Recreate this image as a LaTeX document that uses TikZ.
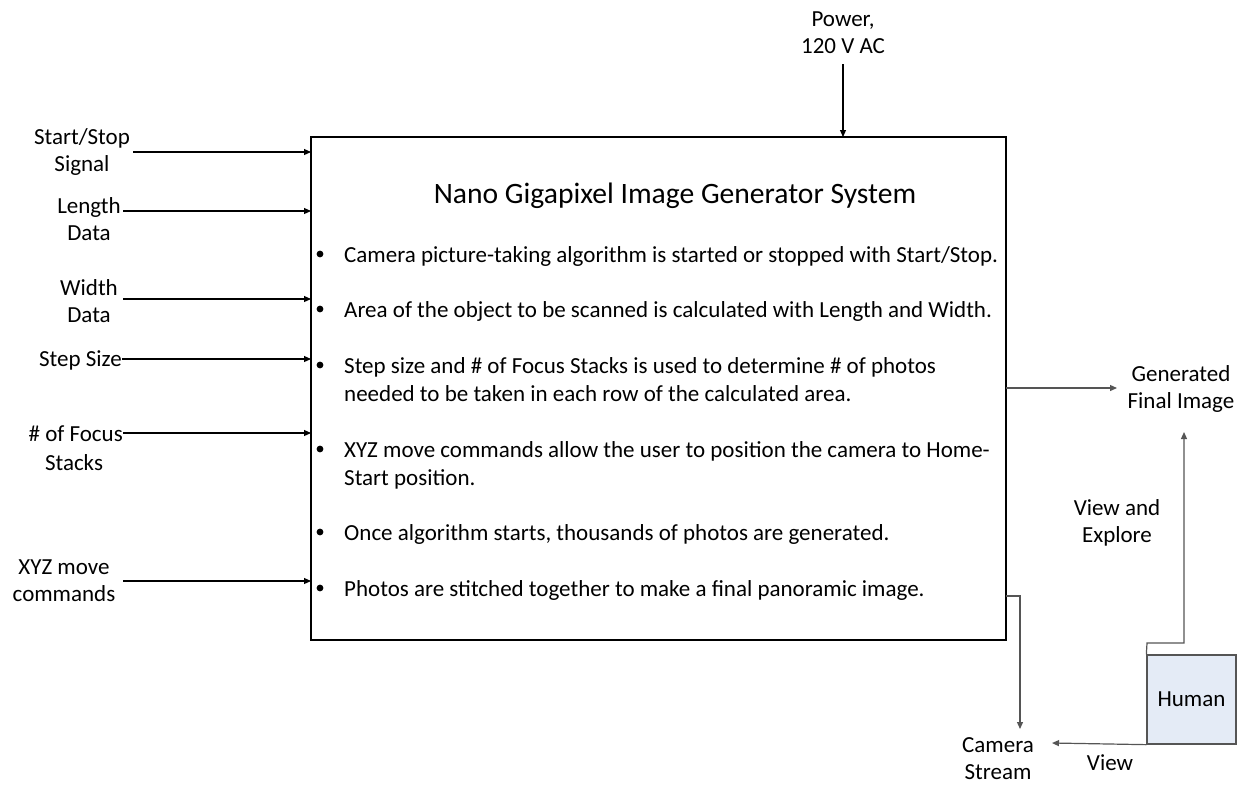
\documentclass[tikz,border=0pt]{standalone}
\usepackage{fontspec}
\setmainfont{Carlito}
\usetikzlibrary{arrows.meta}
\definecolor{humanfill}{HTML}{E4EBF6}
\definecolor{linegray}{HTML}{555555}
\tikzset{
  lbl/.style={font=\fontsize{23}{27}\selectfont, align=center, inner sep=0pt},
  arr/.style={-{Triangle[length=7pt,width=6pt]}, line width=1.1pt, black},
  garr/.style={-{Triangle[length=7pt,width=6pt]}, line width=1.2pt, linegray},
  bul/.style={font=\fontsize{23}{28}\selectfont, anchor=base west, align=left, inner sep=0pt},
}
\begin{document}
\begin{tikzpicture}[x=1pt,y=-1pt]
\useasboundingbox (0,0) rectangle (1242,785);

% main system box
\draw[line width=1.5pt] (311,137) rectangle (1006,640);
\node[font=\fontsize{29.6}{32}\selectfont, inner sep=0pt] (title) at (675,196) {Nano Gigapixel Image Generator System};

% bullet list inside the box (base anchor sits on the last line)
\foreach \yy in {253,308,364,448,531,587}
  \fill (320,\yy+1) circle (3.4pt);
\node[bul] (b1) at (344,262) {Camera picture-taking algorithm is started or stopped with Start/Stop.};
\node[bul] (b2) at (344,317) {Area of the object to be scanned is calculated with Length and Width.};
\node[bul] (b3) at (344,401) {Step size and \# of Focus Stacks is used to determine \# of photos\\needed to be taken in each row of the calculated area.};
\node[bul] (b4) at (344,485) {XYZ move commands allow the user to position the camera to Home-\\Start position.};
\node[bul] (b5) at (344,540) {Once algorithm starts, thousands of photos are generated.};
\node[bul] (b6) at (344,596) {Photos are stitched together to make a final panoramic image.};

% power input
\node[lbl] (pwr) at (843,33) {Power,\\120 V AC};
\coordinate (pwrin) at (843,137);
\draw[arr] (843,64) -- (pwrin);

% left-side inputs
\node[lbl] (ss) at (82,152) {Start/Stop\\Signal};
\node[lbl] (len) at (89,219) {Length\\Data};
\node[lbl] (wid) at (89,301) {Width\\Data};
\node[lbl, anchor=east] (step) at (122,360) {Step Size};
\node[lbl, anchor=east] (foc) at (123,434) {\# of Focus};
\node[lbl] (stk) at (74,463) {Stacks};
\node[lbl] (xyz) at (64,581) {XYZ move\\commands};

\coordinate (i1) at (311,152);
\coordinate (i2) at (311,211);
\coordinate (i3) at (311,299);
\coordinate (i4) at (311,359);
\coordinate (i5) at (311,433);
\coordinate (i6) at (311,581);
\draw[arr] (133,152) -- (i1);
\draw[arr] (123,211) -- (i2);
\draw[arr] (123,299) -- (i3);
\draw[arr] (122,359) -- (i4);
\draw[arr] (123,433) -- (i5);
\draw[arr] (123,581) -- (i6);

% outputs
\node[lbl] (gen) at (1181,389) {Generated\\Final Image};
\draw[garr] (1006,388) -- (1117,388);

\node[lbl] (cam) at (998,759) {Camera\\Stream};
\draw[garr] (1006,596) -- (1020,596) -- (1020,729);

% human observer
\node[draw=linegray, fill=humanfill, line width=1.3pt, minimum width=89pt, minimum height=89pt, inner sep=0pt, font=\fontsize{23}{27}\selectfont] (human) at (1191.5,699.5) {Human};
\draw[garr] (human.north west) -- (1147,643) -- (1184,643) -- (1184,432);
\node[lbl] (vae) at (1117,523) {View and\\Explore};
\draw[garr] (human.south west) -- (1052,743);
\node[lbl] (view) at (1110,763) {View};
\end{tikzpicture}
\end{document}
